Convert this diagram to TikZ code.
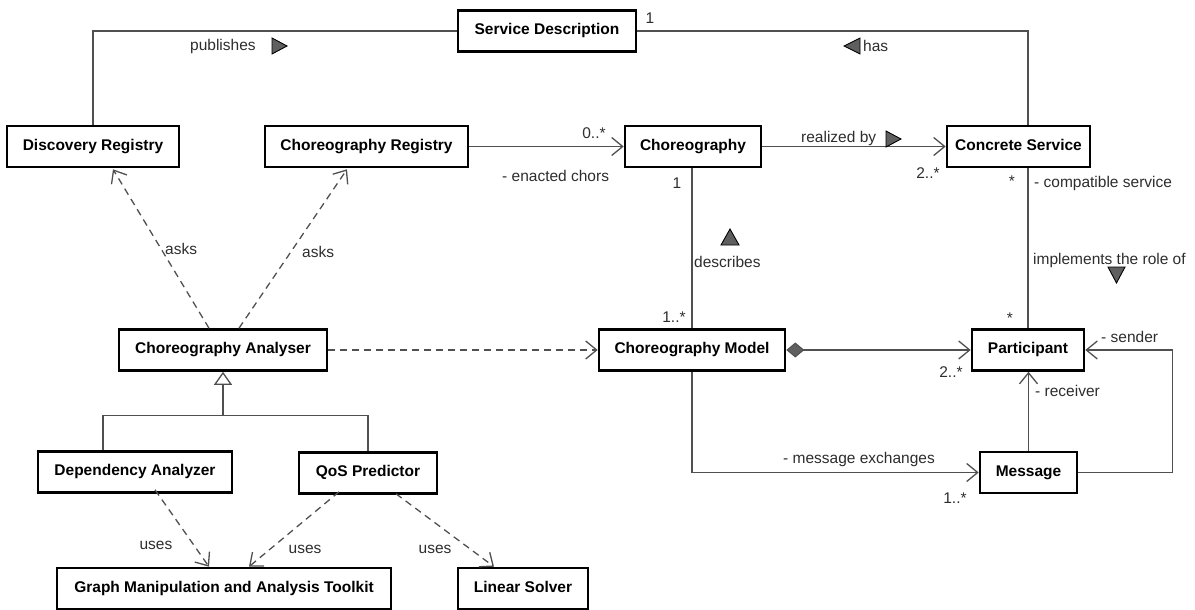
\documentclass[tikz,border=0pt]{standalone}
\usepackage{fontspec}
\setmainfont{Liberation Sans}
\usetikzlibrary{arrows.meta,calc}
\definecolor{edge}{RGB}{80,80,80}
\definecolor{lbl}{RGB}{45,45,45}
\definecolor{mark}{RGB}{95,95,95}

\begin{document}
\begin{tikzpicture}[x=1pt,y=-1pt,
  cls/.style={draw=black, line width=2.6pt, fill=white, text=black,
    font=\fontsize{15.5}{18}\selectfont\bfseries, minimum height=41pt, inner sep=0pt,
    text height=11.5pt, text depth=4.5pt},
  assoc/.style={draw=edge, line width=1.3pt},
  nav/.style={assoc, -{Straight Barb[length=11pt,width=18pt,line width=1.3pt]}},
  dep/.style={nav, dash pattern=on 7pt off 5pt},
  gen/.style={assoc, -{Triangle[length=13pt,width=18pt,fill=white,line width=1.3pt]}},
  lab/.style={font=\fontsize{15.5}{18}\selectfont, text=lbl, inner sep=0pt},
  dirmark/.style={fill=mark, draw=black, line width=0.9pt, line join=miter}
]
\useasboundingbox (0,0) rectangle (1195,610);

% classes
\node[cls, minimum width=178pt] (sd) at (547,31)    {Service Description};
\node[cls, minimum width=172pt] (dr) at (93,146.5)  {Discovery Registry};
\node[cls, minimum width=203pt] (cr) at (366.5,146.5) {Choreography Registry};
\node[cls, minimum width=136pt] (ch) at (693,146.5) {Choreography};
\node[cls, minimum width=143pt] (cs) at (1018.5,146.5) {Concrete Service};
\node[cls, minimum width=208pt] (ca) at (223,350)   {Choreography Analyser};
\node[cls, minimum width=186pt] (cm) at (692,350)   {Choreography Model};
\node[cls, minimum width=112pt] (pa) at (1028,350)  {Participant};
\node[cls, minimum width=194pt] (da) at (135,472)   {Dependency Analyzer};
\node[cls, minimum width=138pt] (qp) at (368,473)   {QoS Predictor};
\node[cls, minimum width=97pt]  (me) at (1028.5,472.5) {Message};
\node[cls, minimum width=334pt] (gm) at (224,588.5) {Graph Manipulation and Analysis Toolkit};
\node[cls, minimum width=130pt] (ls) at (523,588.5) {Linear Solver};

% associations around the service description
\draw[assoc] (dr.north) |- (sd.west);
\draw[assoc] (sd.east) -| (cs.north -| pa.north);
\node[lab, anchor=west] (lpub) at (190,46) {publishes};
\draw[dirmark] (272,38) -- (287,46) -- (272,54) -- cycle;
\node[lab, anchor=west] (lhas) at (863,46) {has};
\draw[dirmark] (860,38) -- (844,46) -- (860,54) -- cycle;
\node[lab] (m1) at (650,18) {1};

% registry and choreography
\draw[nav] (cr.east) -- (ch.west);
\node[lab] (m2) at (594,133) {0..*};
\node[lab, anchor=west] (lenact) at (502,176) {- enacted chors};
\draw[nav] (ch.east) -- (cs.west);
\node[lab, anchor=west] (lreal) at (801,138) {realized by};
\draw[dirmark] (886,131) -- (901,139) -- (886,147) -- cycle;
\node[lab] (m3) at (928,173) {2..*};

% choreography described by its model
\draw[assoc] (ch.south -| cm.north) -- (cm.north);
\node[lab] (m4) at (677,183) {1};
\node[lab] (m5) at (674,317) {1..*};
\draw[dirmark] (721,245) -- (730,229) -- (739,245) -- cycle;
\node[lab, anchor=west] (ldesc) at (694,262) {describes};

% concrete service implements participant
\draw[assoc] (cs.south -| pa.north) -- (pa.north);
\node[lab] (m6) at (1012,181) {*};
\node[lab, anchor=west] (lcomp) at (1034,183) {- compatible service};
\node[lab, anchor=west] (limpl) at (1033,260) {implements the role of};
\draw[dirmark] (1108,267) -- (1125,267) -- (1116.5,283) -- cycle;
\node[lab] (m7) at (1010,318) {*};

% analyser dependencies
\draw[dep] ([xshift=-14pt]ca.north) -- ([xshift=20pt,yshift=-1pt]dr.south);
\node[lab, anchor=west] (lask1) at (165,249) {asks};
\draw[dep] ([xshift=16pt]ca.north) -- ([xshift=-19.5pt,yshift=-1pt]cr.south);
\node[lab, anchor=west] (lask2) at (302,252) {asks};
\draw[dep] (ca.east) -- (cm.west);

% generalisation
\coordinate (gj) at ($(ca.south)+(0,44)$);
\draw[assoc] ([xshift=-32pt]da.north) |- (gj) -| (qp.north);
\draw[gen] (gj) -- (ca.south);

% model composition and messages
\draw[assoc, {Diamond[length=18pt,width=15pt,fill=mark,line width=1pt]}-{Straight Barb[length=11pt,width=18pt,line width=1.3pt]}] (cm.east) -- (pa.west);
\node[lab] (m8) at (951,372) {2..*};
\draw[nav] (cm.south) |- (me.west);
\node[lab, anchor=west] (lmsg) at (783,459) {- message exchanges};
\node[lab] (m9) at (955,498) {1..*};
\draw[nav] (me.north) -- (me.north |- pa.south);
\node[lab, anchor=west] (lrec) at (1035,391) {- receiver};
\draw[nav] (me.east) -- ++(94,0) |- (pa.east);
\node[lab, anchor=west] (lsend) at (1101,337) {- sender};

% uses
\draw[dep] ([xshift=20pt,yshift=4pt]da.south) -- ([xshift=-15pt]gm.north);
\node[lab] (lu1) at (156,545) {uses};
\draw[dep] ([xshift=-29pt,yshift=3pt]qp.south) -- ([xshift=25pt]gm.north);
\node[lab] (lu2) at (305,549) {uses};
\draw[dep] ([xshift=28pt,yshift=1pt]qp.south) -- ([xshift=-29pt]ls.north);
\node[lab] (lu3) at (435,549) {uses};
\end{tikzpicture}
\end{document}
